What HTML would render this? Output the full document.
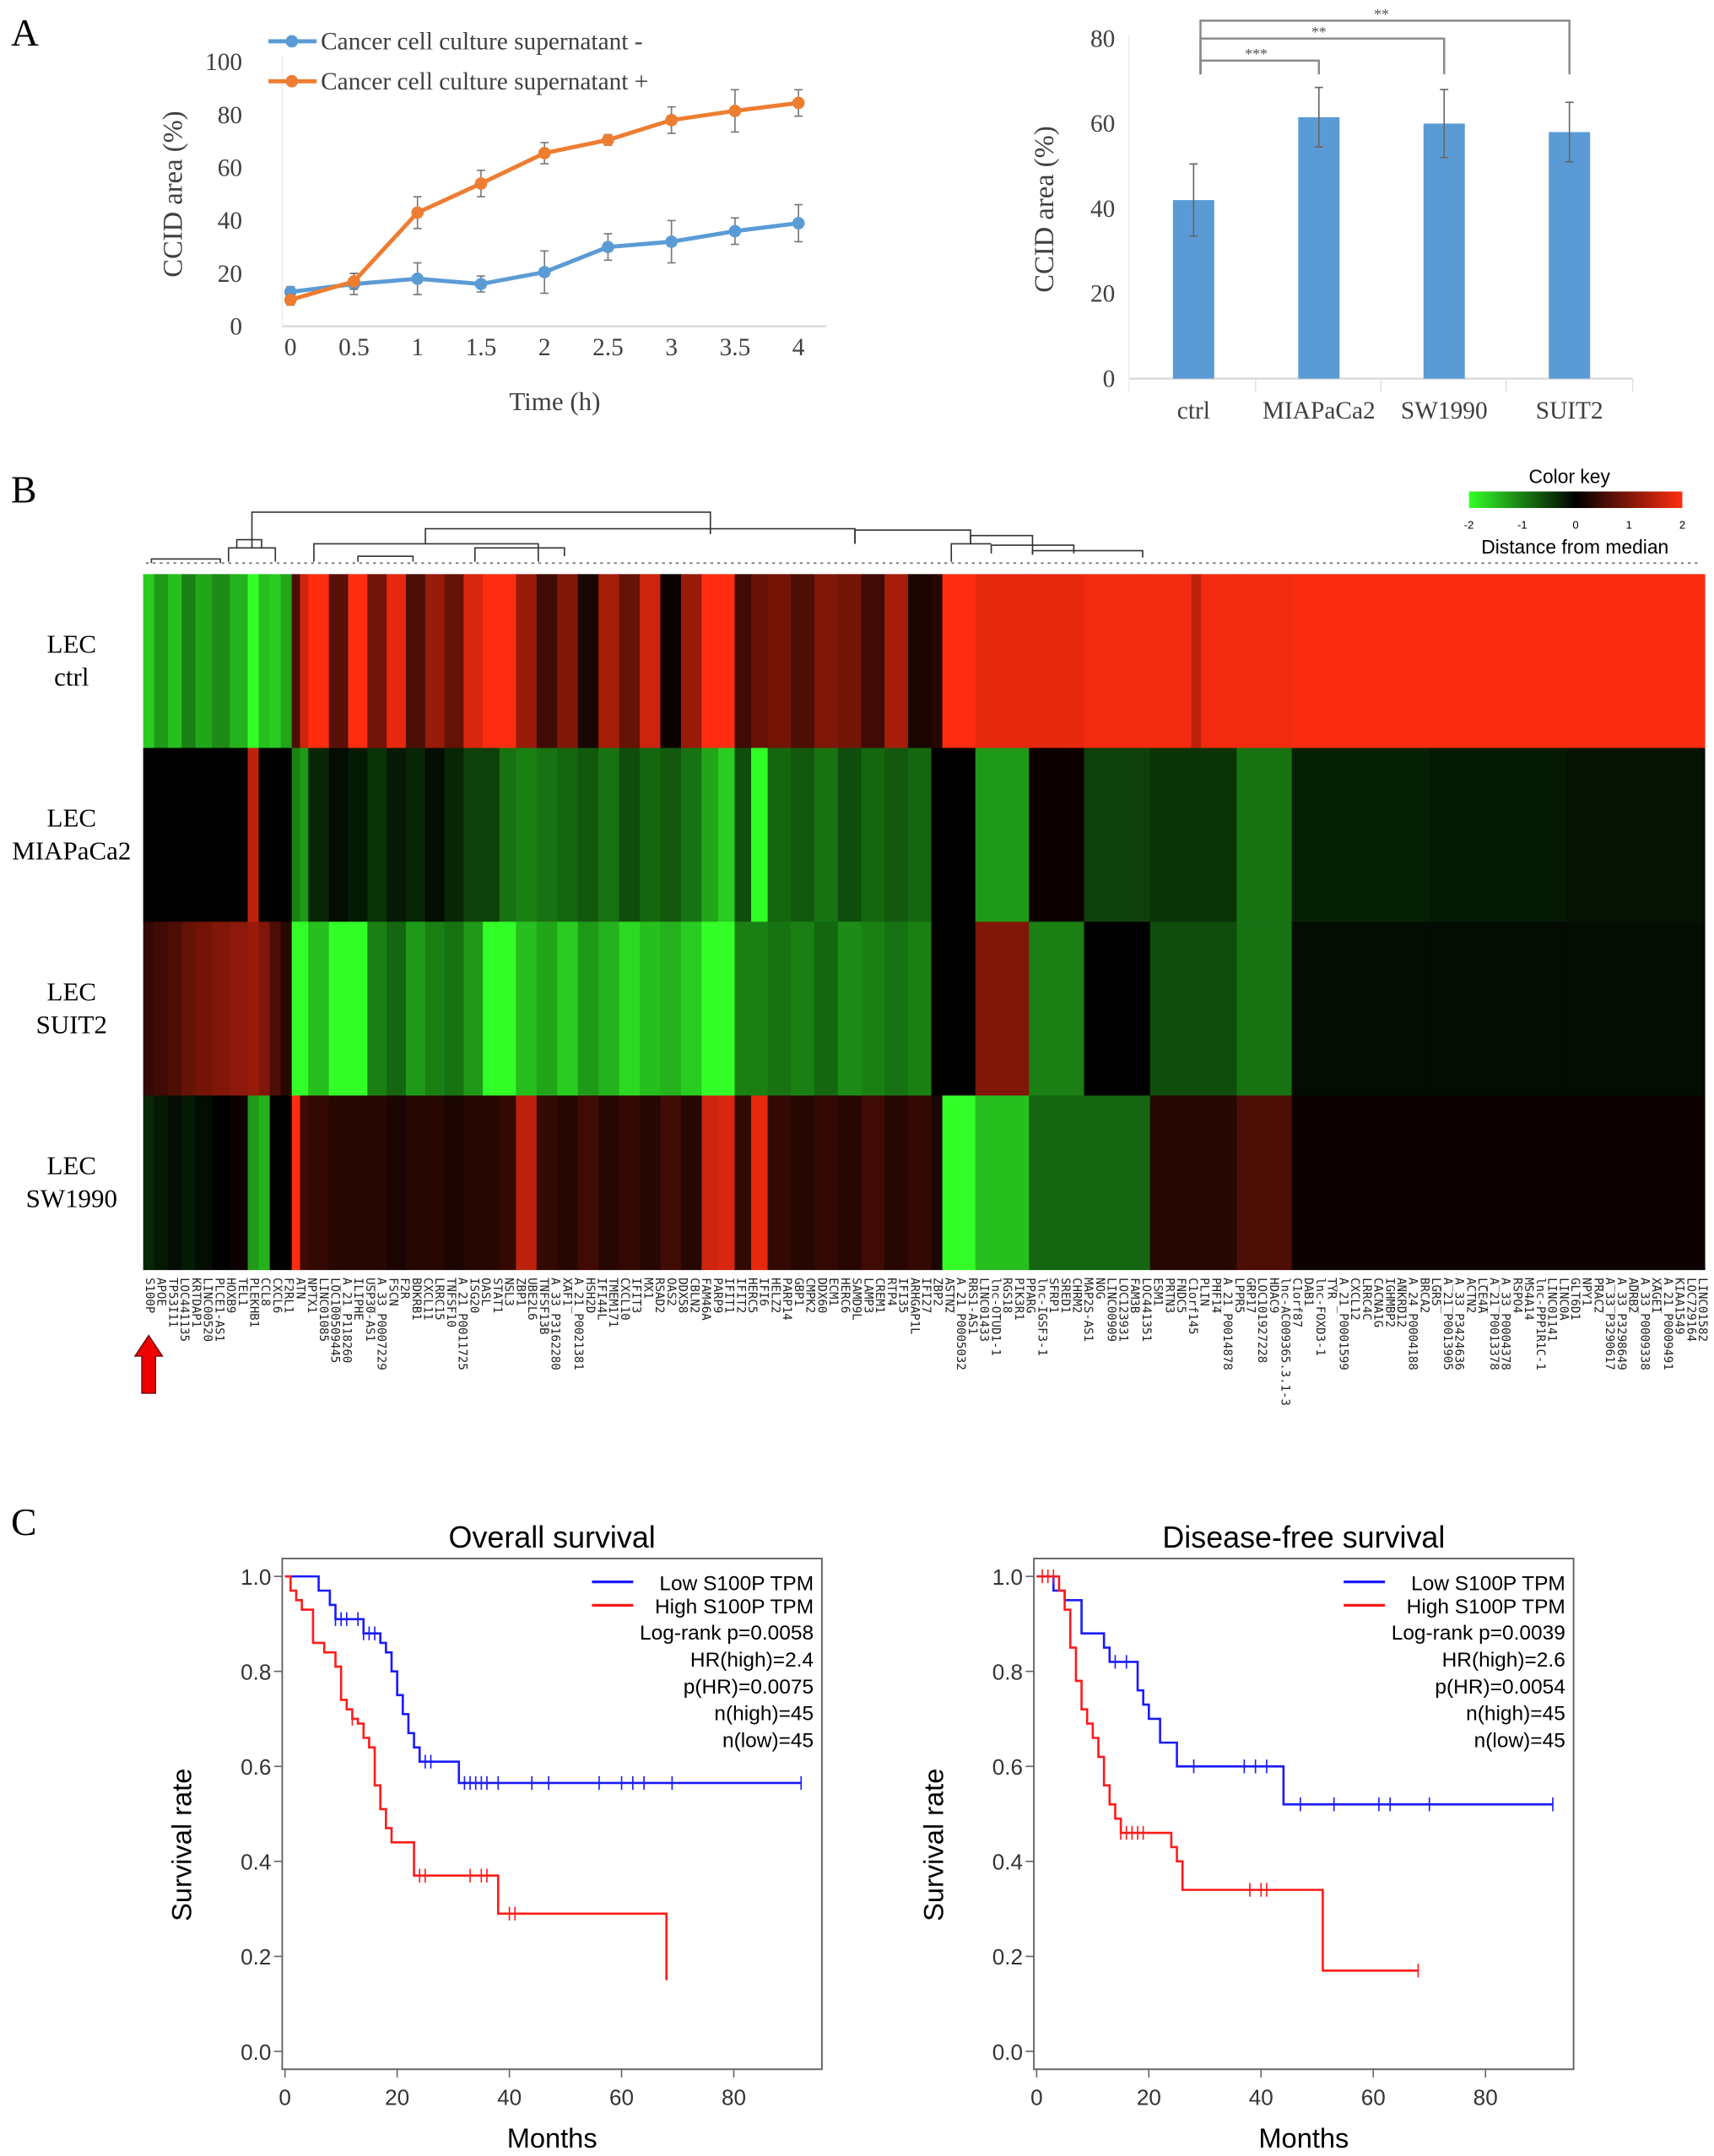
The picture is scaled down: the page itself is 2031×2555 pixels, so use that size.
<!DOCTYPE html>
<html><head><meta charset="utf-8"><style>
html,body{margin:0;padding:0;background:#fff;}
svg{display:block;}
</style></head><body>
<svg id="fig" xmlns="http://www.w3.org/2000/svg" width="2031" height="2555" viewBox="0 0 1245 1566" preserveAspectRatio="none">
<rect x="0" y="0" width="1245" height="1566" fill="#fff"/>
<text x="8" y="33" font-family="Liberation Serif, serif" font-size="28">A</text>
<text x="8" y="365" font-family="Liberation Serif, serif" font-size="28">B</text>
<text x="8" y="1115" font-family="Liberation Serif, serif" font-size="28">C</text>
<g id="gA1"></g>
<g id="gA2"></g>
<g id="gB"></g>
<g id="gC1"></g>
<g id="gC2"></g>
</svg>
<script>
// ---------- Panel A line chart data ----------
const timeCats = [0,0.5,1,1.5,2,2.5,3,3.5,4];
const timeLabels = ["0","0.5","1","1.5","2","2.5","3","3.5","4"];
const minusVals = [13,16,18,16,20.5,30,32,36,39];
const minusErr = [2,4,6,3,8,5,8,5,7];
const plusVals = [10,17,43,54,65.5,70.5,78,81.5,84.5];
const plusErr = [2,3,6,5,4,2,5,8,5];
const lineYTicks = [0,20,40,60,80,100];
// ---------- Panel A bar chart data ----------
const barCats = ["ctrl","MIAPaCa2","SW1990","SUIT2"];
const barVals = [42,61.5,60,58];
const barErr = [8.5,7,8,7];
const barYTicks = [0,20,40,60,80];
const sigLabels = ["***","**","**"];
// ---------- Panel B heatmap data ----------
const rowLabels = [["LEC","ctrl"],["LEC","MIAPaCa2"],["LEC","SUIT2"],["LEC","SW1990"]];
// column segments: relative width, values for rows ctrl, MIA, SUIT2, SW1990 (distance from median, -2..2)
const segWidths = [8,10,10,10,12,13,13,8,8,8,8,6,6,15,14,14,14,14,14,14,14,14,12,12,15,15,15,15,15,15,15,15,15,12,12,12,12,17,17,17,17,17,17,17,8,24,39,40,48,30,7,26,40,100,100,100];
const segCtrl = [-1.6,-1.2,-1.5,-1.0,-1.3,-1.1,-1.4,-2,-1.5,-1.6,-1.3,0.6,1.6,2,0.7,2,0.9,1.8,0.6,1.2,0.8,1.7,2,2,1.2,0.5,1.0,0.2,1.3,0.8,1.6,0.1,1.2,2,2,0.5,0.8,0.9,0.6,1.0,0.9,0.5,1.3,0.2,0.3,2,1.8,1.8,1.9,1.9,1.5,1.9,1.9,1.95,1.95,1.95];
const segMia = [0,0,0,0,0,0,0,1.5,0,0,0,-1.0,-1.2,-0.3,-0.1,-0.2,-0.4,-0.2,-0.3,-0.1,-0.3,-0.5,-0.5,-0.9,-1.0,-0.9,-0.8,-0.7,-0.9,-0.6,-0.8,-0.7,-0.9,-1.3,-1.6,-0.6,-2,-0.8,-0.7,-0.9,-0.6,-0.8,-0.7,-0.8,0,0,-1.2,0.1,-0.5,-0.4,-0.4,-0.4,-0.9,-0.25,-0.2,-0.15];
const segSuit = [0.4,0.5,0.6,0.8,0.9,1.0,1.1,1.2,1.0,0.6,0.3,-2,-2,-1.5,-2,-2,-1.0,-0.8,-1.2,-1.0,-0.9,-1.2,-2,-2,-1.5,-1.3,-1.6,-1.2,-1.4,-1.7,-1.5,-1.4,-1.6,-2,-2,-1.0,-1.0,-0.9,-1.0,-0.8,-1.1,-1.0,-0.9,-1.0,0,0,1.0,-1.0,0,-0.6,-0.6,-0.6,-0.9,-0.1,-0.1,-0.1];
const segSw = [-0.3,-0.2,-0.1,-0.2,-0.1,0,0.1,-1.2,-1.4,0,0,2,0.5,0.4,0.3,0.3,0.3,0.2,0.3,0.3,0.2,0.3,0.3,0.4,1.5,0.4,0.3,0.5,0.3,0.4,0.3,0.5,0.3,1.6,1.7,0.4,1.8,0.4,0.3,0.4,0.3,0.5,0.3,0.4,0.2,-2,-1.5,-0.8,-0.8,0.3,0.3,0.3,0.6,0.1,0.1,0.1];
const colorKeyTicks = [-2,-1,0,1,2];
const geneLabels = ["S100P","APOE","TP53I11","LOC441135","KRTDAP1","LINC00520","PLCE1-AS1","HOXB9","TEL1","PLEKHB1","CCL8","CXCL6","F2RL1","ATN","NPTX1","LINC01085","LOC100509445","A_21_P118260","ILIPHE","USP30-AS1","A_33_P0007229","FSCN","F2R","BDKRB1","CXCL11","LRRC15","TNFSF10","A_21_P0011725","ISG20","OASL","STAT1","NSL3","ZBP1","UBE2L6","TNFSF13B","A_33_P3162280","XAF1","A_21_P0021381","HSH2D","IFI44L","TMEM171","CXCL10","IFIT3","MX1","RSAD2","OAS2","DDX58","CBLN2","FAM46A","PARP9","IFIT1","IFIT2","HERC5","IFI6","HELZ2","PARP14","GBP1","CMPK2","DDX60","ECM1","HERC6","SAMD9L","LAMP3","CREM1","RTP4","IFI35","ARHGAP1L","IFI27","ZBP2","ASTN2","A_21_P0005032","RRS1-AS1","LINC01433","lnc-OTUD1-1","RGS18","PIK3R1","PPARG","lnc-IGSF3-1","SFRP1","SRED1","CHRM2","MAP2S-AS1","NOG","LINC00909","LOC123931","FAM3B","LOC441351","ESM1","PRTN3","FNDC5","C1orf145","PLIN","PHF14","A_21_P0014878","LPPR5","GRP17","LOC101927228","HDAC9","lnc-AC009365.3.1-3","C1orf87","DAB1","lnc-FOXD3-1","TYR","A_21_P0001599","CXCL12","LRRC4C","CACNA1G","IGHMBP2","ANKRD12","A_24_P0004188","BRCA2","LGR5","A_21_P0013905","A_33_P3424636","ACTN2","LCE4A","A_21_P0013378","A_33_P0004378","RSPO4","MS4A14","lnc-PPP1R1C-1","LINC01141","LINC0A","GLT6D1","NPY1","PRAC2","A_33_P3290617","A_33_P3298649","ADRB2","A_33_P0009338","XAGE1","A_21_P0009491","KIAA1549","LOC729164","LINC01582"];
// ---------- Panel C survival data ----------
const osLowT = [0,6,8,9,14,17,18,19,20,21,22,23,24,31,92];
const osLowS = [1.0,0.97,0.94,0.91,0.88,0.86,0.84,0.80,0.75,0.71,0.67,0.64,0.61,0.565,0.565];
const osLowCensT = [9,10,11,13,14,15,16,25,26,32,33,34,35,36,38,44,47,56,60,62,64,69,92];
const osHighT = [0,1,2,3,5,7,9,10,11,12,13,14,15,16,17,18,19,20,23,38,68];
const osHighS = [1.0,0.97,0.95,0.93,0.86,0.84,0.81,0.74,0.72,0.70,0.69,0.66,0.64,0.56,0.51,0.47,0.44,0.44,0.37,0.29,0.15];
const osHighCensT = [12,24,25,33,35,36,40,41];
const dfsLowT = [0,3,5,8,12,13,18,19,20,22,25,44,92];
const dfsLowS = [1.0,0.97,0.95,0.88,0.85,0.82,0.76,0.73,0.70,0.65,0.60,0.52,0.52];
const dfsLowCensT = [14,16,28,37,39,41,47,53,61,63,70,92];
const dfsHighT = [0,4,5,6,7,8,9,10,11,12,13,14,15,24,25,26,51,68];
const dfsHighS = [1.0,0.97,0.93,0.85,0.78,0.72,0.69,0.66,0.62,0.56,0.52,0.49,0.46,0.43,0.40,0.34,0.17,0.17];
const dfsHighCensT = [1,2,3,15,16,17,18,19,38,40,41,68];
const kmYTicks = [0,0.2,0.4,0.6,0.8,1.0];
const kmXTicks = [0,20,40,60,80];

const NS="http://www.w3.org/2000/svg";
function mk(parent,tag,attrs,text){const e=document.createElementNS(NS,tag);for(const k in attrs)e.setAttribute(k,attrs[k]);if(text!==undefined)e.textContent=text;parent.appendChild(e);return e;}
const serif="Liberation Serif, serif", sans="Liberation Sans, Arial, sans-serif";

// ===== Line chart =====
(function(){
const g=document.getElementById('gA1');
const xs=t=>211+t*(580-211)/4, ys=v=>237-v*1.92;
let e=mk(g,'line',{x1:205,y1:237,x2:600,y2:237,stroke:'#d9d9d9','stroke-width':1.5});


mk(g,'line',{x1:205,y1:40,x2:205,y2:237,stroke:'#eee','stroke-width':1});
lineYTicks.forEach(v=>{const t=mk(g,'text',{x:176,y:ys(v)+6,'text-anchor':'end','font-family':serif,'font-size':18,fill:'#404040'},String(v));

});
timeCats.forEach((c,i)=>{const t=mk(g,'text',{x:xs(c),y:258,'text-anchor':'middle','font-family':serif,'font-size':18,fill:'#404040'},timeLabels[i]);

});
const yl=mk(g,'text',{x:132,y:141,'text-anchor':'middle','font-family':serif,'font-size':20,fill:'#404040',transform:'rotate(-90 132 141)'},'CCID area (%)');


const xl=mk(g,'text',{x:403,y:298,'text-anchor':'middle','font-family':serif,'font-size':19,fill:'#404040'},'Time (h)');


function series(vals,errs,color,name){
  errs.forEach((er,i)=>{const x=xs(timeCats[i]);mk(g,'line',{x1:x,y1:ys(vals[i]+er),x2:x,y2:ys(vals[i]-er),stroke:'#777','stroke-width':1});
   mk(g,'line',{x1:x-3,y1:ys(vals[i]+er),x2:x+3,y2:ys(vals[i]+er),stroke:'#777'});mk(g,'line',{x1:x-3,y1:ys(vals[i]-er),x2:x+3,y2:ys(vals[i]-er),stroke:'#777'});});
  const p=mk(g,'polyline',{points:vals.map((v,i)=>xs(timeCats[i])+','+ys(v)).join(' '),fill:'none',stroke:color,'stroke-width':3});
  
  
  vals.forEach((v,i)=>{const c=mk(g,'circle',{cx:xs(timeCats[i]),cy:ys(v),r:4.5,fill:color});
   
   });
}
series(minusVals,minusErr,'#5b9bd5','supernatant-minus');
series(plusVals,plusErr,'#ed7d31','supernatant-plus');
[['#5b9bd5','Cancer cell culture supernatant -',30],['#ed7d31','Cancer cell culture supernatant +',59]].forEach(([c,t,y])=>{
 mk(g,'line',{x1:195,y1:y,x2:230,y2:y,stroke:c,'stroke-width':3});mk(g,'circle',{cx:212,cy:y,r:4.5,fill:c});
 const lt=mk(g,'text',{x:233,y:y+6,'font-family':serif,'font-size':18,fill:'#404040'},t);
 
 });
})();

// ===== Bar chart =====
(function(){
const g=document.getElementById('gA2');
const ys=v=>275-v*247/80, xc=i=>867+i*91;
mk(g,'line',{x1:820,y1:275,x2:1186,y2:275,stroke:'#d9d9d9','stroke-width':1.5});
mk(g,'line',{x1:820,y1:25,x2:820,y2:285,stroke:'#eee','stroke-width':1});
[912,1003,1094,1186].forEach(x=>mk(g,'line',{x1:x,y1:275,x2:x,y2:285,stroke:'#e3e3e3'}));
barYTicks.forEach(v=>{const t=mk(g,'text',{x:810,y:ys(v)+6,'text-anchor':'end','font-family':serif,'font-size':18,fill:'#404040'},String(v));
 
 });
const yl=mk(g,'text',{x:765,y:152,'text-anchor':'middle','font-family':serif,'font-size':20,fill:'#404040',transform:'rotate(-90 765 152)'},'CCID area (%)');


barVals.forEach((v,i)=>{const r=mk(g,'rect',{x:xc(i)-15,y:ys(v),width:30,height:ys(0)-ys(v),fill:'#5b9bd5'});
 
 
 const x=xc(i);mk(g,'line',{x1:x,y1:ys(v+barErr[i]),x2:x,y2:ys(v-barErr[i]),stroke:'#666','stroke-width':1});
 mk(g,'line',{x1:x-3,y1:ys(v+barErr[i]),x2:x+3,y2:ys(v+barErr[i]),stroke:'#666'});
 mk(g,'line',{x1:x-3,y1:ys(v-barErr[i]),x2:x+3,y2:ys(v-barErr[i]),stroke:'#666'});
 const t=mk(g,'text',{x:x,y:304,'text-anchor':'middle','font-family':serif,'font-size':18,fill:'#404040'},barCats[i]);
 
 });
const by=[44,28,15];
[1,2,3].forEach((j,k)=>{const x2=xc(j);const y=by[k];
 const p=mk(g,'path',{d:`M${xc(0)+5},54 V${y} H${x2} V54`,fill:'none',stroke:'#888','stroke-width':1.5});
 
 
 mk(g,'text',{x:(xc(0)+x2)/2,y:y-1,'text-anchor':'middle','font-family':serif,'font-size':11,fill:'#555'},sigLabels[k]);});
})();

// ===== Heatmap =====
(function(){
const g=document.getElementById('gB');
const X0=104,X1=1238,Y0=417,RH=126.25;
const tot=segWidths.reduce((a,b)=>a+b,0);
function col(v){v=Math.max(-2,Math.min(2,v));
 if(v<0){const t=-v/2;return `rgb(${Math.round(51*t)},${Math.round(255*t)},${Math.round(40*t)})`;}
 const t=v/2;return `rgb(${Math.round(255*t)},${Math.round(45*t)},${Math.round(16*t)})`;}
const rows=[segCtrl,segMia,segSuit,segSw];
const rowNames=['ctrl','miapaca2','suit2','sw1990'];
let acc=0;
segWidths.forEach((w,i)=>{const x=X0+(X1-X0)*acc/tot, wd=(X1-X0)*w/tot+0.6;acc+=w;
 rows.forEach((r,ri)=>{const c=mk(g,'rect',{x:x,y:Y0+ri*RH,width:wd,height:RH+0.5,fill:col(r[i])});
  
  });});
rowLabels.forEach((l,ri)=>{const cy=Y0+ri*RH+RH/2;
 const t=mk(g,'text',{x:52,y:cy-6,'text-anchor':'middle','font-family':serif,'font-size':19},l[0]);
 
 
 mk(g,'text',{x:52,y:cy+18,'text-anchor':'middle','font-family':serif,'font-size':19},l[1]);});
// dendrogram
const dg=mk(g,'g',{stroke:'#333','stroke-width':1,fill:'none'});


const dpaths=["M183,398 V372 H516 V388","M166,408 V398 H200 V408","M172,398 V392 H190 V398","M228,408 V395 H391 V408","M309,395 V384 H621 V395","M621,395 V385 H705 V395","M691,408 V395 H720 V395","M705,395 V389 H750 V403","M720,402 V396 H780 V402","M750,403 V400 H830 V405","M345,408 V398 H410 V404","M260,408 V404 H300 V408","M110,409 V406 H160 V409"];
dpaths.forEach(d=>mk(dg,'path',{d:d}));
mk(dg,'path',{d:'M106,409 H1235',stroke:'#777','stroke-width':1.2,'stroke-dasharray':'2 3'});
// color key
const defs=mk(g,'defs',{});const lg=mk(defs,'linearGradient',{id:'ck',x1:0,x2:1,y1:0,y2:0});
[[0,'#33ff28'],[0.5,'#000'],[1,'#ff2d10']].forEach(([o,c])=>mk(lg,'stop',{offset:o,'stop-color':c}));
const ck=mk(g,'rect',{x:1067,y:357,width:155,height:12,fill:'url(#ck)'});


mk(g,'text',{x:1140,y:351,'text-anchor':'middle','font-family':sans,'font-size':14},'Color key');
colorKeyTicks.forEach((v,i)=>mk(g,'text',{x:1067+i*155/4,y:384,'text-anchor':'middle','font-family':sans,'font-size':8},String(v)));
mk(g,'text',{x:1144,y:402,'text-anchor':'middle','font-family':sans,'font-size':14},'Distance from median');
// gene labels
const n=geneLabels.length;
geneLabels.forEach((s,i)=>{const x=106+i*(1234-106)/(n-1);
 const t=mk(g,'text',{x:x,y:928,'font-family':'DejaVu Sans Mono, Liberation Mono, monospace','font-size':8.6,transform:`rotate(90 ${x} 928)`,fill:'#222'},s);
 
 });
const ar=mk(g,'path',{d:'M103,1012 V985 H98 L108,970 L118,985 H113 V1012 Z',fill:'#e00',stroke:'#600','stroke-width':0.8});


})();

// ===== KM plots =====
function km(gid,bx,title,lowT,lowS,lowC,highT,highS,highC,stats){
const g=document.getElementById(gid);
const X=m=>bx+2+m*4.075, Y=s=>1490-s*345;
const box=mk(g,'rect',{x:bx,y:1132,width:392,height:371,fill:'none',stroke:'#666','stroke-width':1.2});


const tt=mk(g,'text',{x:bx+196,y:1124,'text-anchor':'middle','font-family':sans,'font-size':22},title);


kmYTicks.forEach(v=>{mk(g,'line',{x1:bx-6,y1:Y(v),x2:bx,y2:Y(v),stroke:'#666'});
 const t=mk(g,'text',{x:bx-8,y:Y(v)+6,'text-anchor':'end','font-family':sans,'font-size':16,fill:'#333'},v.toFixed(1));
 
 });
kmXTicks.forEach(v=>{mk(g,'line',{x1:X(v),y1:1503,x2:X(v),y2:1509,stroke:'#666'});
 const t=mk(g,'text',{x:X(v),y:1529,'text-anchor':'middle','font-family':sans,'font-size':16,fill:'#333'},String(v));
 
 });
const xl=mk(g,'text',{x:bx+196,y:1560,'text-anchor':'middle','font-family':sans,'font-size':20},'Months');


const yx=bx-66;
const yl=mk(g,'text',{x:yx,y:1340,'text-anchor':'middle','font-family':sans,'font-size':20,transform:`rotate(-90 ${yx} 1340)`},'Survival rate');


function curve(T,S,C,color,name){let d=`M${X(T[0])},${Y(S[0])}`;
 for(let i=1;i<T.length;i++){d+=` H${X(T[i])} V${Y(S[i])}`;}
 const p=mk(g,'path',{d:d,fill:'none',stroke:color,'stroke-width':1.6});
 
 
 C.forEach(t=>{let s=S[0];for(let i=0;i<T.length;i++){if(T[i]<=t)s=S[i];}
  const c=mk(g,'line',{x1:X(t),y1:Y(s)-5,x2:X(t),y2:Y(s)+5,stroke:color,'stroke-width':1});
  
  });}
curve(lowT,lowS,lowC,'#1a1aff','low-s100p');
curve(highT,highS,highC,'#ff1a1a','high-s100p');
const lx=bx+225;
[['#1a1aff','Low S100P TPM',1149],['#ff1a1a','High S100P TPM',1166]].forEach(([c,t,y])=>{
 mk(g,'line',{x1:lx,y1:y,x2:lx+30,y2:y,stroke:c,'stroke-width':2});
 const e=mk(g,'text',{x:bx+386,y:y+6,'text-anchor':'end','font-family':sans,'font-size':15},t);
 
 });
stats.forEach((s,i)=>{const e=mk(g,'text',{x:bx+386,y:1191+i*19.5,'text-anchor':'end','font-family':sans,'font-size':15},s);
 
 });
}
km('gC1',205,'Overall survival',osLowT,osLowS,osLowCensT,osHighT,osHighS,osHighCensT,['Log-rank p=0.0058','HR(high)=2.4','p(HR)=0.0075','n(high)=45','n(low)=45']);
km('gC2',751,'Disease-free survival',dfsLowT,dfsLowS,dfsLowCensT,dfsHighT,dfsHighS,dfsHighCensT,['Log-rank p=0.0039','HR(high)=2.6','p(HR)=0.0054','n(high)=45','n(low)=45']);
</script>
</body></html>
